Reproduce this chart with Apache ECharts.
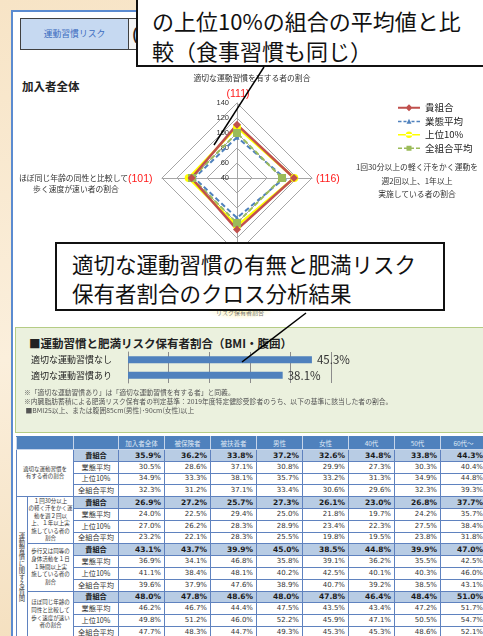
<!DOCTYPE html>
<html>
<head>
<meta charset="utf-8">
<script src="https://cdn.jsdelivr.net/npm/echarts@6/dist/echarts.min.js"></script>
<style>
html, body { margin: 0; padding: 0; }
body {
    width: 483px; height: 636px; overflow: hidden; position: relative;
    background: linear-gradient(170deg, #f7e4c6 0%, #fbefdc 50%, #f3dcb8 100%);
    font-family: 'Noto Sans CJK JP', sans-serif; color: #222;
}
.abs { position: absolute; }
#panel { left: 11px; top: 10px; width: 480px; height: 640px; background: #fff; border-left: 2px solid #5b8bd0; border-top: 2px solid #5b8bd0; }
.tab { top: 18px; height: 32px; box-sizing: border-box; border: 1px solid #404040; }
#tab1 { left: 20px; width: 109px; background: #c6d9f1; color: #3c6cc0; font-size: 8.8px; line-height: 30px; text-align: center; }
#tab2 { left: 128px; width: 70px; background: #f4f4f4; font-size: 15px; font-weight: bold; line-height: 30px; padding-left: 3px; }
.callout { box-sizing: border-box; border: 2px solid #111; background: #fff; color: #111; }
#call1 { left: 136px; top: -3px; width: 360px; height: 70px; font-size: 22px; line-height: 30px; padding: 6px 0 0 14px; }
#call2 { left: 55px; top: 242px; width: 390px; height: 69px; font-size: 21.5px; line-height: 29px; padding: 4.5px 0 0 15px; }
#whole { left: 22px; top: 77px; font-size: 11.5px; font-weight: bold; line-height: 18px; }
.lbl { font-size: 7.8px; line-height: 12px; color: #333; white-space: nowrap; }
.red { font-family: 'Liberation Sans', sans-serif; font-size: 10.5px; line-height: 14px; color: #ff1a1a; }
#green { left: 15px; top: 327px; width: 480px; height: 106px; box-sizing: border-box; background: #ebf1de; border: 1px solid #b5cc85; }
#barTitle { left: 29px; top: 334px; font-size: 11.5px; font-weight: bold; line-height: 18px; white-space: nowrap; }
#notes { left: 24px; top: 387.5px; font-size: 6.8px; line-height: 9px; color: #555; white-space: nowrap; }
#risk { left: 205px; top: 298px; width: 70px; height: 22px; background: radial-gradient(ellipse at center, rgba(255,238,140,0.7) 0%, rgba(255,245,190,0) 70%); font-size: 6px; color: #777; text-align: center; line-height: 30px; }
#tbl { left: 16px; top: 436px; border-collapse: collapse; table-layout: fixed; width: 470px; }
#tbl td, #tbl th { border: 1px solid #5f82bf; padding: 0; overflow: hidden; white-space: nowrap; box-sizing: border-box; }
#tbl tr { height: 11.8px; }
#tbl td { height: 11.8px; line-height: 9px; }
#tbl tr.hd, #tbl th { height: 13px; }
#tbl th { background: #4f81bd; color: #dfe8f4; font-weight: normal; font-size: 6.5px; line-height: 10px; border-color: #c7d5ea; border-top-color: #4f81bd; }
#tbl td.v { text-align: right; padding-right: 3px; font-family: 'DejaVu Sans', sans-serif; font-size: 7px; color: #333; }
#tbl td.rl { text-align: center; font-size: 7.2px; color: #333; }
#tbl tr.own td.v, #tbl tr.own td.rl { background: #b8cce4; font-weight: bold; color: #1a1a1a; }
#tbl tr.own td.v { font-size: 7.5px; }
#tbl td.grp { text-align: center; font-size: 5.5px; line-height: 7.6px; color: #333; height: auto; }
#tbl td.vert { writing-mode: vertical-rl; text-align: center; font-size: 6.3px; line-height: 9px; letter-spacing: 0.8px; color: #333; height: auto; }
</style>
</head>
<body>
<div id="panel" class="abs"></div>
<div id="tab1" class="abs tab">運動習慣リスク</div>
<div id="tab2" class="abs tab">(</div>
<div id="whole" class="abs">加入者全体</div>
<div id="radar" class="abs" style="left:0;top:60px;width:483px;height:200px;"></div>
<div id="radarLabels"></div>
<div id="risk" class="abs">リスク保有者割合</div>
<div id="green" class="abs"></div>
<div id="barTitle" class="abs">■運動習慣と肥満リスク保有者割合（BMI・腹囲）</div>
<div id="bar" class="abs" style="left:0;top:340px;width:483px;height:50px;"></div>
<div id="notes" class="abs">※「適切な運動習慣あり」は「適切な運動習慣を有する者」と同義。<br>※内臓脂肪蓄積による肥満リスク保有者の判定基準：2019年度特定健診受診者のうち、以下の基準に該当した者の割合。<br>&nbsp;■BMI25以上、または腹囲85cm(男性)･90cm(女性)以上</div>
<table id="tbl" class="abs"></table>
<div id="call1" class="abs callout">の上位10%の組合の平均値と比<br>較（食事習慣も同じ）</div>
<div id="call2" class="abs callout">適切な運動習慣の有無と肥満リスク<br>保有者割合のクロス分析結果</div>
<svg class="abs" style="left:0;top:0" width="483" height="636">
    <line x1="264" y1="67" x2="214" y2="145" stroke="#000" stroke-width="1.5"/>
    <line x1="306" y1="313" x2="242" y2="362" stroke="#000" stroke-width="1.5"/>
</svg>
<script>
// レーダー：全組合平均=100 とした指数（上→左→下→右）
const radarAxes = [
    '適切な運動習慣を有する者の割合',
    'ほぼ同じ年齢の同性と比較して歩く速度が速い者の割合',
    '歩行又は同等の身体活動を1日1時間以上実施している者の割合',
    '1回30分以上の軽く汗をかく運動を週2回以上、1年以上実施している者の割合'
]
const seriesNames = ['貴組合', '業態平均', '上位10%', '全組合平均']
const ownIndex = [111.1, 100.6, 108.8, 115.9]
const industryIndex = [94.4, 96.9, 93.2, 103.4]
const top10Index = [108.0, 104.4, 103.8, 116.4]
const allIndex = [100, 100, 100, 100]
const radarTicks = [40, 140]

// 棒グラフ
const barCategories = ['適切な運動習慣なし', '適切な運動習慣あり']
const barValues = [45.3, 38.1]

// 表
const tableColumns = ['加入者全体', '被保険者', '被扶養者', '男性', '女性', '40代', '50代', '60代〜']
const tableRowLabels = ['貴組合', '業態平均', '上位10%', '全組合平均']
const tableQuestions = [
    '適切な運動習慣を<br>有する者の割合',
    '１回30分以上<br>の軽く汗をかく運<br>動を週２回以<br>上、１年以上実<br>施している者の<br>割合',
    '歩行又は同等の<br>身体活動を１日<br>１時間以上実<br>施している者の<br>割合',
    'ほぼ同じ年齢の<br>同性と比較して<br>歩く速度が速い<br>者の割合'
]
const tableQ1 = [
    [35.9, 36.2, 33.8, 37.2, 32.6, 34.8, 33.8, 44.3],
    [30.5, 28.6, 37.1, 30.8, 29.9, 27.3, 30.3, 40.4],
    [34.9, 33.3, 38.1, 35.7, 33.2, 31.3, 34.9, 44.8],
    [32.3, 31.2, 37.1, 33.4, 30.6, 29.6, 32.3, 39.3]
]
const tableQ2 = [
    [26.9, 27.2, 25.7, 27.3, 26.1, 23.0, 26.8, 37.7],
    [24.0, 22.5, 29.4, 25.0, 21.8, 19.7, 24.2, 35.7],
    [27.0, 26.2, 28.3, 28.9, 23.4, 22.3, 27.5, 38.4],
    [23.2, 22.1, 28.3, 25.5, 19.8, 19.5, 23.8, 31.8]
]
const tableQ3 = [
    [43.1, 43.7, 39.9, 45.0, 38.5, 44.8, 39.9, 47.0],
    [36.9, 34.1, 46.8, 35.8, 39.1, 36.2, 35.5, 42.5],
    [41.1, 38.4, 48.1, 40.2, 42.5, 40.1, 40.3, 46.0],
    [39.6, 37.9, 47.6, 38.9, 40.7, 39.2, 38.5, 43.1]
]
const tableQ4 = [
    [48.0, 47.8, 48.6, 48.0, 47.8, 46.4, 48.4, 51.0],
    [46.2, 46.7, 44.4, 47.5, 43.5, 43.4, 47.2, 51.7],
    [49.8, 51.2, 46.0, 52.2, 45.9, 47.1, 50.5, 54.7],
    [47.7, 48.3, 44.7, 49.3, 45.3, 45.3, 48.6, 52.1]
]

// 凡例アイコン（線＋マーカー）
const legendIcons = [
    'path://M0,3.2H22V5.2H0Z M7.5,4.2L11,0.7L14.5,4.2L11,7.7Z',
    'path://M0,3.5H3.5V5H0Z M5.5,3.5H8.5V5H5.5Z M8.5,6.5L11,1.5L13.5,6.5Z M13.5,3.5H16.5V5H13.5Z M18.5,3.5H22V5H18.5Z',
    'path://M0,3.4H22V5H0Z M7.8,4.2a3.2,3.2 0 1,0 6.4,0a3.2,3.2 0 1,0 -6.4,0Z',
    'path://M0,3.5H4V5H0Z M6,3.5H8.5V5H6Z M8.5,1.7H13.5V6.7H8.5Z M13.5,3.5H16V5H13.5Z M18,3.5H22V5H18Z'
]
const seriesStyles = {
    '貴組合': { color: '#c0504d', symbol: 'diamond', size: 8, width: 2.5, type: 'solid' },
    '業態平均': { color: '#4f81bd', symbol: 'triangle', size: 5, width: 2, type: [5, 3] },
    '上位10%': { color: '#ffff00', symbol: 'circle', size: 8, width: 2.5, type: 'solid' },
    '全組合平均': { color: '#9bbb59', symbol: 'rect', size: 8, width: 2, type: [5, 3] }
}
const seriesValues = {
    '貴組合': ownIndex, '業態平均': industryIndex, '上位10%': top10Index, '全組合平均': allIndex
}

const radarChart = echarts.init(document.getElementById('radar'))
radarChart.setOption({
    textStyle: { fontFamily: 'Noto Sans CJK JP' },
    legend: {
        orient: 'vertical',
        left: 393,
        top: 38,
        itemWidth: 22,
        itemHeight: 8,
        itemGap: 4,
        textStyle: { fontSize: 9.5, color: '#222' },
        data: seriesNames.map((n, i) => ({ name: n, icon: legendIcons[i] }))
    },
    radar: {
        center: [237, 118],
        radius: 75,
        startAngle: 90,
        splitNumber: 5,
        shape: 'polygon',
        axisName: { show: false },
        axisLine: { lineStyle: { color: '#a6a6a6' } },
        splitLine: { lineStyle: { color: '#a6a6a6' } },
        splitArea: { show: false },
        axisTick: { show: false },
        axisLabel: { show: false, fontSize: 7.5, color: '#333', fontFamily: 'Liberation Sans' },
        indicator: radarAxes.map((n, i) => {
            const ind = { name: n, min: radarTicks[0], max: radarTicks[1] }
            if (i === 0) ind.axisLabel = { show: true }
            return ind
        })
    },
    series: [{
        type: 'radar',
        data: ['業態平均', '上位10%', '全組合平均', '貴組合'].map(n => {
            const s = seriesStyles[n]
            return {
                name: n,
                value: seriesValues[n],
                symbol: s.symbol,
                symbolSize: s.size,
                itemStyle: { color: s.color },
                lineStyle: { color: s.color, width: s.width, type: s.type }
            }
        })
    }]
})

// レーダー周りの文字
const labelsHtml = [
    `<div class="abs lbl" style="left:152px;top:72px;width:200px;text-align:center">${radarAxes[0]}</div>`,
    `<div class="abs red" style="left:213px;top:86px;width:50px;text-align:center">(${Math.round(ownIndex[0])})</div>`,
    `<div class="abs lbl" style="left:0;top:172px;width:128px;text-align:right">ほぼ同じ年齢の同性と比較して</div>`,
    `<div class="abs lbl" style="left:26px;top:183px;width:100px;text-align:center">歩く速度が速い者の割合</div>`,
    `<div class="abs red" style="left:128px;top:171px">(${Math.round(ownIndex[1])})</div>`,
    `<div class="abs red" style="left:316px;top:171px">(${Math.round(ownIndex[3])})</div>`,
    `<div class="abs lbl" style="left:352px;top:160px;width:130px;text-align:center;line-height:13.5px">1回30分以上の軽く汗をかく運動を<br>週2回以上、1年以上<br>実施している者の割合</div>`
]
document.getElementById('radarLabels').innerHTML = labelsHtml.join('')

const barChart = echarts.init(document.getElementById('bar'))
barChart.setOption({
    textStyle: { fontFamily: 'Noto Sans CJK JP' },
    grid: { left: 128, right: 152, top: 12, height: 31 },
    xAxis: {
        type: 'value', min: 0, max: 50, interval: 10,
        axisLabel: { show: false },
        axisLine: { show: false },
        axisTick: { show: false },
        splitLine: { lineStyle: { color: '#8c8c8c' } }
    },
    yAxis: {
        type: 'category',
        inverse: true,
        data: barCategories,
        axisTick: { show: false },
        axisLine: { lineStyle: { color: '#8c8c8c' } },
        axisLabel: { fontSize: 9, color: '#222', margin: 16 }
    },
    series: [{
        type: 'bar',
        data: barValues,
        barWidth: 7,
        itemStyle: { color: '#4f81bd' },
        label: { show: true, position: 'right', distance: 5, formatter: '{c}%', fontSize: 11.5, color: '#333' }
    }]
})

// 表の組み立て
const tableData = [tableQ1, tableQ2, tableQ3, tableQ4]
let html = '<colgroup><col style="width:11px"><col style="width:46px"><col style="width:45px">' +
    tableColumns.map(() => '<col style="width:46px">').join('') + '</colgroup>'
html += '<tr class="hd"><th colspan="2"></th><th></th>' + tableColumns.map(c => `<th>${c}</th>`).join('') + '</tr>'
tableData.forEach((rows, g) => {
    rows.forEach((vals, r) => {
        let tr = `<tr class="${r === 0 ? 'own' : ''}">`
        if (r === 0) {
            if (g === 0) tr += `<td class="grp" colspan="2" rowspan="4">${tableQuestions[g]}</td>`
            else {
                if (g === 1) tr += '<td class="vert" rowspan="12">運動習慣に関する質問</td>'
                tr += `<td class="grp" rowspan="4">${tableQuestions[g]}</td>`
            }
        }
        tr += `<td class="rl">${tableRowLabels[r]}</td>`
        tr += vals.map(v => `<td class="v">${v.toFixed(1)}%</td>`).join('')
        html += tr + '</tr>'
    })
})
document.getElementById('tbl').innerHTML = html
</script>
</body>
</html>
